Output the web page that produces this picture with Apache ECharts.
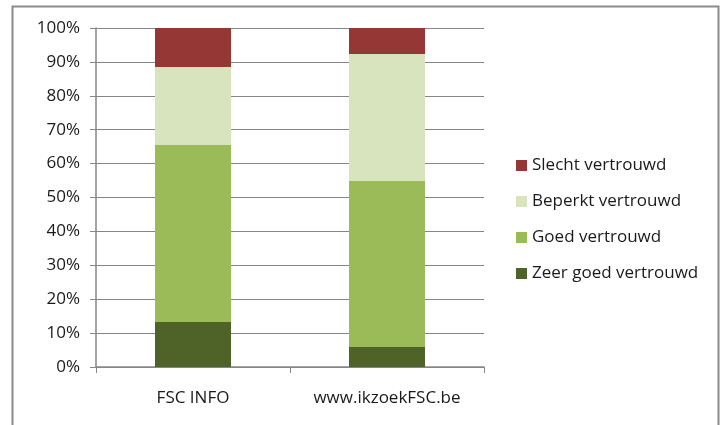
<!DOCTYPE html>
<html><head><meta charset="utf-8">
<script src="https://cdn.jsdelivr.net/npm/echarts@6/dist/echarts.min.js"></script>
<style>html,body{margin:0;padding:0;background:#fff}#c{width:722px;height:425px}</style>
</head><body><div id="c"></div>
<script>
var categories = ['FSC INFO', 'www.ikzoekFSC.be'];
var zeerGoed = [13.3, 5.9];
var goed = [52.2, 49.0];
var beperkt = [23.0, 37.4];
var slecht = [11.5, 7.7];
var seriesNames = ['Zeer goed vertrouwd', 'Goed vertrouwd', 'Beperkt vertrouwd', 'Slecht vertrouwd'];
var colors = ['#4F6228', '#9BBB59', '#D7E4BD', '#953735'];
var yTicks = [0, 10, 20, 30, 40, 50, 60, 70, 80, 90, 100];

var values = [zeerGoed, goed, beperkt, slecht];
var font = 'Open Sans';
var chart = echarts.init(document.getElementById('c'), null, {renderer: 'canvas'});
chart.setOption({
  animation: false,
  color: colors,
  grid: {left: 96, right: 238, top: 28, bottom: 58},
  graphic: [{type: 'rect', shape: {x: 12.5, y: 6.5, width: 706, height: 440},
    style: {fill: 'none', stroke: '#8a8a8a', lineWidth: 2}}],
  legend: {
    orient: 'vertical', left: 511, top: 152,
    data: seriesNames.slice().reverse(),
    icon: 'rect', itemWidth: 11, itemHeight: 11, itemGap: 19,
    textStyle: {fontFamily: font, fontSize: 17, color: '#1a1a1a'}
  },
  xAxis: {
    type: 'category', data: categories,
    axisLine: {lineStyle: {color: '#868686', width: 1.5}},
    axisTick: {show: true, length: 6, lineStyle: {color: '#868686'}},
    axisLabel: {fontFamily: font, fontSize: 17, color: '#1a1a1a', margin: 23}
  },
  yAxis: {
    type: 'value', min: 0, max: 100, interval: 10,
    axisLine: {show: true, lineStyle: {color: '#868686', width: 1.5}},
    axisTick: {show: true, length: 6, lineStyle: {color: '#868686'}},
    splitLine: {lineStyle: {color: '#868686', width: 1.2}},
    axisLabel: {fontFamily: font, fontSize: 17, color: '#1a1a1a', margin: 16,
      formatter: function (v) { return yTicks.indexOf(v) >= 0 ? v + '%' : ''; }}
  },
  series: seriesNames.map(function (n, i) {
    return {name: n, type: 'bar', stack: 'all', data: values[i], barWidth: 76,
      itemStyle: {color: colors[i]}};
  })
});
</script></body></html>
